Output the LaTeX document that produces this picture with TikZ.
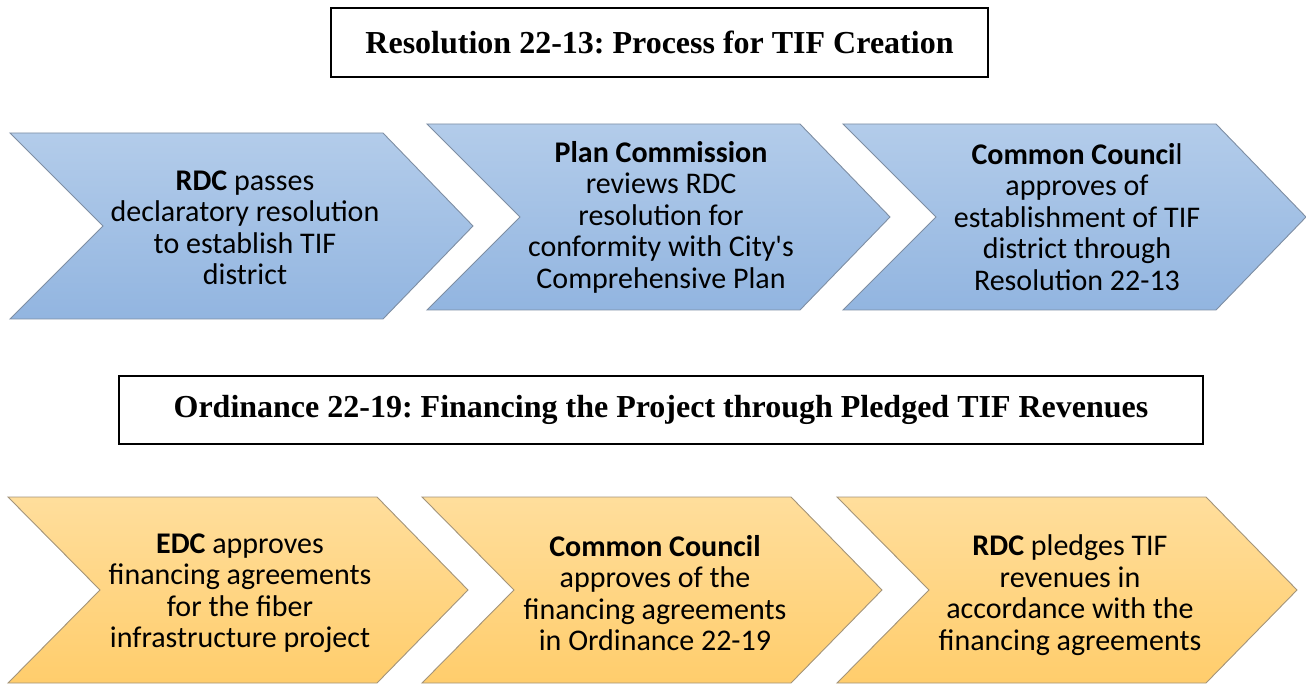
\documentclass[tikz,border=0pt]{standalone}
\usepackage{fontspec}
\setmainfont{Carlito}
\newfontfamily\titlefont{Liberation Serif}
\frenchspacing
\definecolor{bluetop}{HTML}{B3CCEA}
\definecolor{bluebot}{HTML}{92B5E0}
\definecolor{blueline}{HTML}{7E8EA3}
\definecolor{orangetop}{HTML}{FFDE9C}
\definecolor{orangebot}{HTML}{FFCD6C}
\definecolor{orangeline}{HTML}{A3947A}
\tikzset{
  bluechev/.style={top color=bluetop, bottom color=bluebot, draw=blueline, line width=0.9pt},
  orangechev/.style={top color=orangetop, bottom color=orangebot, draw=orangeline, line width=0.9pt},
  steptext/.style={align=center, inner sep=0pt, font=\fontsize{30}{31.5}\selectfont},
  titlebox/.style={draw, line width=2pt, inner sep=0pt,
    font=\titlefont\bfseries\fontsize{32}{36}\selectfont},
}
\begin{document}
\begin{tikzpicture}[x=1pt,y=-1pt]
  \useasboundingbox (0,0) rectangle (1306,684);
  \node[titlebox, minimum width=657pt, minimum height=69pt] (restitle) at (659.5,42.5)
    {Resolution 22-13: Process for TIF Creation};
  \node[titlebox, minimum width=1084pt, minimum height=68pt] (ordtitle) at (661,410)
    {Ordinance 22-19: Financing the Project through Pledged TIF Revenues};

  \foreach \x/\y in {10/133, 427/124, 843/124}
    \shade[bluechev] (\x,\y) -- ++(373,0) -- ++(90,93) -- ++(-90,93) -- ++(-373,0) -- ++(93,-93) -- cycle;
  \foreach \x in {8, 422, 837}
    \shade[orangechev] (\x,497) -- ++(369,0) -- ++(91,93) -- ++(-91,93) -- ++(-369,0) -- ++(92,-93) -- cycle;

  \node[steptext] (rdcpass) at (245,228) {\textbf{RDC} passes\\declaratory resolution\\to establish TIF\\district};
  \node[steptext] (plancomm) at (661,217) {\textbf{Plan Commission}\\reviews RDC\\resolution for\\conformity with City\textquotesingle s\\Comprehensive Plan};
  \node[steptext] (councilres) at (1077,217) {\textbf{Common Counci}l\\approves of\\establishment of TIF\\district through\\Resolution 22-13};
  \node[steptext] (edcappr) at (240,593) {\textbf{EDC} approves\\financing agreements\\for the fiber\\infrastructure project};
  \node[steptext] (councilord) at (655,593) {\textbf{Common Council}\\approves of the\\financing agreements\\in Ordinance 22-19};
  \node[steptext] (rdcpledge) at (1070,595) {\textbf{RDC} pledges TIF\\revenues in\\accordance with the\\financing agreements};
\end{tikzpicture}
\end{document}
